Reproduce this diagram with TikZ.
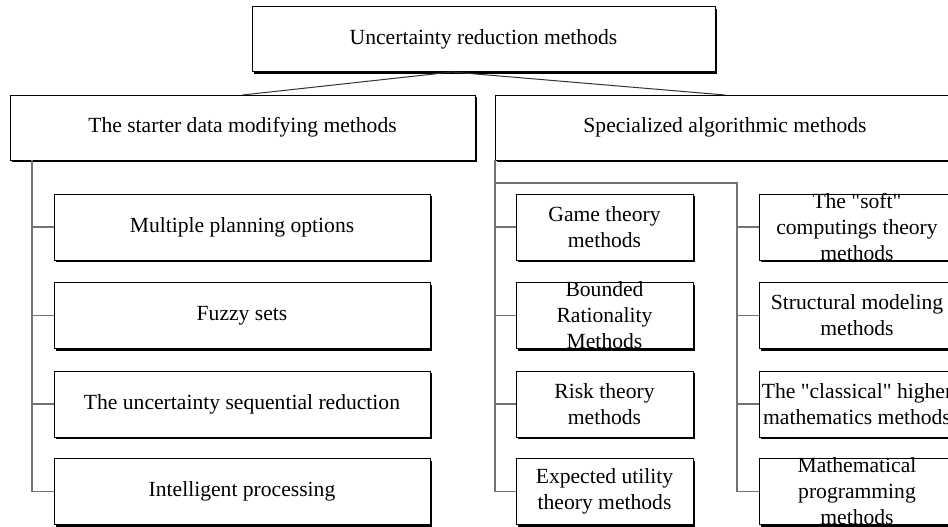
\documentclass[tikz,border=0pt]{standalone}
\usepackage{fontspec}
% no TeX input mapping, so " prints as a straight double quote
\setmainfont{Liberation Serif}[Ligatures=TeXOff]
\usetikzlibrary{shadows,calc}

\tikzset{
  box/.style={draw=black, line width=1pt, fill=white, inner sep=0pt, outer sep=0pt,
    drop shadow={shadow xshift=2pt, shadow yshift=-2pt, fill=black, opacity=1}},
  txt/.style={align=center, inner sep=0pt, font=\fontsize{21.6}{26}\selectfont},
  link/.style={draw=black!80, line width=1pt},
  spine/.style={draw=black!55, line width=1.5pt},
}

\begin{document}
\begin{tikzpicture}[x=1pt, y=-1pt]
  \useasboundingbox (0,0) rectangle (948,527);
  \fill[white] (0,0) rectangle (948,527);
  \clip (0,0) rectangle (948,527);

  % root
  \node[box, minimum width=463pt, minimum height=65pt,
        label={[txt]center:Uncertainty reduction methods}] (top) at (483.5,39.5) {};

  % two main groups
  \node[box, minimum width=465pt, minimum height=65pt,
        label={[txt]center:The starter data modifying methods}] (lmid) at (242.5,127.5) {};
  \node[box, minimum width=460pt, minimum height=65pt,
        label={[txt]center:Specialized algorithmic methods}] (rmid) at (725,127.5) {};

  % left group members
  \foreach \n/\y/\t in {l1/227/Multiple planning options,
                        l2/315.5/Fuzzy sets,
                        l3/404/The uncertainty sequential reduction,
                        l4/491.5/Intelligent processing}{
    \node[box, minimum width=376pt, minimum height=66pt,
          label={[txt]center:\t}] (\n) at (242,\y) {};
  }

  % right group, first column
  \node[box, minimum width=177pt, minimum height=66pt,
        label={[txt]center:Game theory\\methods}] (r1) at (604.5,227) {};
  \node[box, minimum width=177pt, minimum height=66pt,
        label={[txt]center:Bounded\\Rationality\\Methods}] (r2) at (604.5,315.5) {};
  \node[box, minimum width=177pt, minimum height=66pt,
        label={[txt]center:Risk theory\\methods}] (r3) at (604.5,404) {};
  \node[box, minimum width=177pt, minimum height=66pt,
        label={[txt]center:Expected utility\\theory methods}] (r4) at (604.5,491.5) {};

  % right group, second column
  \node[box, minimum width=196pt, minimum height=66pt,
        label={[txt]center:The "soft"\\computings theory\\methods}] (s1) at (857,227) {};
  \node[box, minimum width=196pt, minimum height=66pt,
        label={[txt]center:Structural modeling\\methods}] (s2) at (857,315.5) {};
  \node[box, minimum width=196pt, minimum height=66pt,
        label={[txt]center:The "classical" higher\\mathematics methods}] (s3) at (857,404) {};
  \node[box, minimum width=196pt, minimum height=66pt,
        label={[txt]center:Mathematical\\programming\\methods}] (s4) at (857,491.5) {};

  % root to groups
  \coordinate (fork) at ($(top.south west)!0.432!(top.south east)$);
  \draw[link] (fork) -- (lmid.north);
  \draw[link] (fork) -- (rmid.north);

  % left spine
  \coordinate (lsp) at (32,160);
  \draw[spine] (lsp) |- (l4.west);
  \foreach \n in {l1,l2,l3}{ \draw[spine] (lsp |- \n.west) -- (\n.west); }

  % right spine, first column
  \draw[spine] (rmid.south west) |- (r4.west);
  \foreach \n in {r1,r2,r3}{ \draw[spine] (rmid.south west |- \n.west) -- (\n.west); }

  % right spine, second column
  \coordinate (rs2) at (737,183);
  \draw[spine] (rmid.south west |- rs2) -- (rs2) |- (s4.west);
  \foreach \n in {s1,s2,s3}{ \draw[spine] (rs2 |- \n.west) -- (\n.west); }
\end{tikzpicture}
\end{document}
